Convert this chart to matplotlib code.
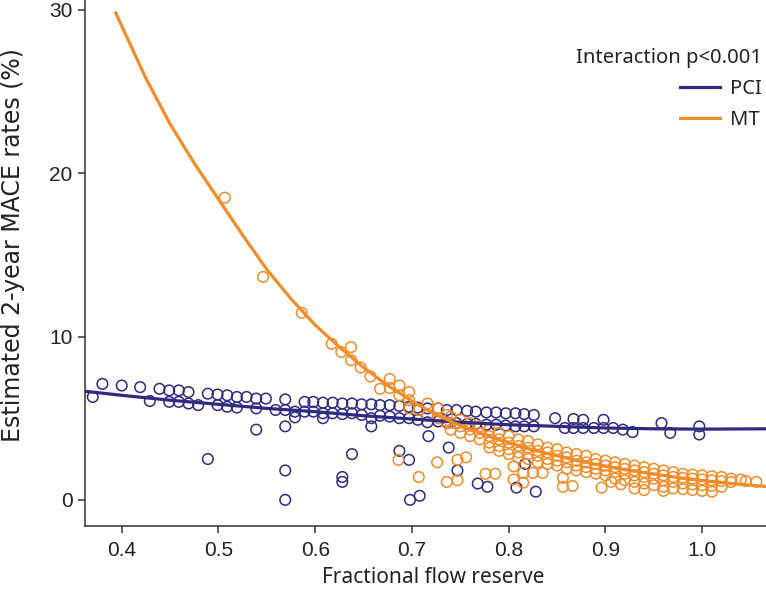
import matplotlib
matplotlib.use("Agg")
import matplotlib.pyplot as plt
from matplotlib.lines import Line2D

PCI_COLOR = "#2e2a82"
MT_COLOR = "#f28c28"

# Fitted curves
pci_curve_x = [0.362, 0.40, 0.45, 0.50, 0.55, 0.60, 0.65, 0.70, 0.75, 0.80, 0.85, 0.90, 0.95, 1.00, 1.066]
pci_curve_y = [6.65, 6.4, 6.1, 5.85, 5.6, 5.4, 5.15, 4.95, 4.75, 4.6, 4.5, 4.4, 4.35, 4.33, 4.35]

mt_curve_x = [0.393, 0.40, 0.425, 0.45, 0.475, 0.50, 0.525, 0.55, 0.575, 0.60, 0.625, 0.65, 0.675, 0.70,
              0.725, 0.75, 0.775, 0.80, 0.825, 0.85, 0.875, 0.90, 0.925, 0.95, 0.975, 1.00, 1.025, 1.05, 1.066]
mt_curve_y = [29.9, 29.0, 25.8, 23.0, 20.6, 18.4, 16.2, 14.1, 12.3, 10.7, 9.35, 8.1, 7.0, 6.05,
              5.2, 4.55, 4.0, 3.5, 3.05, 2.7, 2.35, 2.05, 1.8, 1.58, 1.37, 1.18, 1.03, 0.9, 0.82]

# PCI observed points
pci_x = [0.37, 0.38, 0.40, 0.419, 0.429, 0.439, 0.449, 0.449, 0.459, 0.459, 0.469, 0.469, 0.479,
         0.489, 0.489, 0.499, 0.499, 0.509, 0.509, 0.519, 0.519, 0.529, 0.539, 0.539, 0.539, 0.549,
         0.559, 0.569, 0.569, 0.569, 0.569, 0.569, 0.579, 0.579, 0.589, 0.589, 0.598, 0.598,
         0.608, 0.608, 0.608, 0.618, 0.618, 0.628, 0.628, 0.628, 0.628, 0.638, 0.638, 0.638,
         0.648, 0.648, 0.658, 0.658, 0.658, 0.667, 0.667, 0.677, 0.677, 0.687, 0.687, 0.687,
         0.697, 0.697, 0.697, 0.698, 0.706, 0.706, 0.708, 0.716, 0.716, 0.717, 0.727, 0.727,
         0.736, 0.736, 0.738, 0.746, 0.746, 0.747, 0.757, 0.757, 0.766, 0.766, 0.768, 0.777, 0.777,
         0.778, 0.787, 0.787, 0.797, 0.797, 0.807, 0.807, 0.808, 0.816, 0.816, 0.817, 0.826, 0.826,
         0.828, 0.848, 0.858, 0.867, 0.867, 0.877, 0.877, 0.888, 0.898, 0.898, 0.908, 0.918,
         0.928, 0.958, 0.967, 0.997, 0.997]
pci_y = [6.3, 7.1, 7.0, 6.9, 6.05, 6.8, 6.7, 6.0, 6.7, 6.0, 6.6, 5.9, 5.8,
         6.5, 2.5, 6.45, 5.8, 6.4, 5.7, 6.3, 5.65, 6.3, 6.2, 5.6, 4.3, 6.2,
         5.5, 6.15, 5.5, 4.5, 1.8, 0.0, 5.4, 5.05, 6.0, 5.4, 6.0, 5.4,
         5.95, 5.3, 5.0, 5.95, 5.3, 5.9, 5.25, 1.4, 1.1, 5.9, 5.3, 2.8,
         5.85, 5.2, 5.85, 5.0, 4.5, 5.8, 5.15, 5.8, 5.1, 5.75, 5.0, 3.0,
         5.7, 5.0, 2.45, 0.0, 5.65, 4.9, 0.25, 5.6, 4.75, 3.9, 5.6, 4.8,
         5.5, 4.75, 3.2, 5.5, 4.7, 1.8, 5.45, 4.65, 5.4, 4.65, 1.0, 5.35, 4.6,
         0.8, 5.35, 4.6, 5.3, 4.55, 5.3, 4.5, 0.75, 5.25, 4.5, 2.2, 5.2, 4.5,
         0.5, 5.0, 4.4, 4.95, 4.4, 4.9, 4.4, 4.4, 4.9, 4.4, 4.4, 4.3,
         4.15, 4.7, 4.1, 4.5, 4.0]

# MT observed points
mt_x = [0.5065, 0.546, 0.586, 0.617, 0.627, 0.637, 0.637, 0.647, 0.657, 0.667, 0.677, 0.677,
        0.687, 0.687, 0.697, 0.697, 0.697, 0.707, 0.716, 0.716, 0.727, 0.727, 0.736, 0.736,
        0.74, 0.74, 0.74, 0.75, 0.75, 0.75, 0.76, 0.76, 0.76, 0.77, 0.77, 0.77,
        0.78, 0.78, 0.78, 0.78, 0.79, 0.79, 0.79, 0.79, 0.80, 0.80, 0.80, 0.80,
        0.81, 0.81, 0.81, 0.81, 0.82, 0.82, 0.82, 0.82, 0.83, 0.83, 0.83, 0.83,
        0.84, 0.84, 0.84, 0.84, 0.85, 0.85, 0.85, 0.85, 0.86, 0.86, 0.86, 0.86,
        0.87, 0.87, 0.87, 0.87, 0.88, 0.88, 0.88, 0.88, 0.89, 0.89, 0.89, 0.89,
        0.90, 0.90, 0.90, 0.90, 0.91, 0.91, 0.91, 0.91, 0.92, 0.92, 0.92, 0.92,
        0.93, 0.93, 0.93, 0.93, 0.93, 0.94, 0.94, 0.94, 0.94, 0.94, 0.95, 0.95, 0.95, 0.95,
        0.96, 0.96, 0.96, 0.96, 0.96, 0.97, 0.97, 0.97, 0.97, 0.98, 0.98, 0.98, 0.98,
        0.99, 0.99, 0.99, 0.99, 1.00, 1.00, 1.00, 1.00, 1.01, 1.01, 1.01, 1.01,
        1.02, 1.02, 1.02, 1.03, 1.03, 1.04, 1.045, 1.056,
        0.686, 0.707, 0.726, 0.736, 0.747, 0.747, 0.756, 0.776, 0.786, 0.805, 0.805, 0.815,
        0.815, 0.825, 0.835, 0.856, 0.856, 0.866, 0.896, 0.906, 0.916]
mt_y = [18.5, 13.65, 11.45, 9.55, 9.05, 9.35, 8.55, 8.1, 7.55, 6.8, 7.4, 6.85,
        7.0, 6.4, 6.6, 6.1, 5.6, 5.5, 5.9, 5.2, 5.6, 5.0, 5.2, 4.7,
        5.1, 4.7, 4.3, 4.9, 4.5, 4.1, 4.7, 4.3, 3.9, 4.5, 4.1, 3.7,
        4.3, 3.9, 3.5, 3.2, 4.1, 3.7, 3.3, 3.0, 3.9, 3.5, 3.1, 2.8,
        3.7, 3.3, 2.9, 2.6, 3.6, 3.2, 2.8, 2.5, 3.4, 3.0, 2.7, 2.3,
        3.2, 2.9, 2.5, 2.2, 3.1, 2.7, 2.4, 2.1, 2.9, 2.6, 2.3, 1.9,
        2.8, 2.4, 2.1, 1.8, 2.7, 2.3, 2.0, 1.7, 2.5, 2.2, 1.9, 1.6,
        2.4, 2.1, 1.8, 1.5, 2.3, 2.0, 1.7, 1.3, 2.2, 1.9, 1.6, 1.2,
        2.1, 1.8, 1.5, 1.1, 0.7, 2.0, 1.7, 1.4, 1.0, 0.6, 1.9, 1.6, 1.3, 0.9,
        1.8, 1.5, 1.2, 0.8, 0.55, 1.7, 1.4, 1.1, 0.7, 1.6, 1.35, 1.0, 0.65,
        1.55, 1.3, 0.95, 0.6, 1.5, 1.25, 0.9, 0.55, 1.45, 1.2, 0.85, 0.5,
        1.4, 1.15, 0.8, 1.3, 1.1, 1.25, 1.15, 1.1,
        2.45, 1.4, 2.3, 1.1, 2.45, 1.2, 2.6, 1.6, 1.6, 2.05, 1.25, 1.65,
        1.05, 1.65, 1.65, 1.35, 0.8, 0.85, 0.75, 1.1, 0.95]

x_ticks = [0.4, 0.5, 0.6, 0.7, 0.8, 0.9, 1.0]
x_tick_labels = ["0.4", "0.5", "0.6", "0.7", "0.8", "0.9", "1.0"]
y_ticks = [0, 10, 20, 30]
y_tick_labels = ["0", "10", "20", "30"]

W, H = 766, 594
L, B = 85, 526
fig = plt.figure(figsize=(W / 100, H / 100), dpi=100)
ax = fig.add_axes([L / W, (H - B) / H, (W - L) / W, B / H])

ax.scatter(pci_x, pci_y, s=58, facecolors="none", edgecolors=PCI_COLOR, linewidths=1.1, zorder=2)
ax.scatter(mt_x, mt_y, s=58, facecolors="none", edgecolors=MT_COLOR, linewidths=1.1, zorder=3)
ax.plot(pci_curve_x, pci_curve_y, color=PCI_COLOR, lw=2.3, zorder=4, solid_capstyle="butt")
ax.plot(mt_curve_x, mt_curve_y, color=MT_COLOR, lw=2.3, zorder=5, solid_capstyle="butt")

ax.set_xlim(0.362, 1.066)
ax.set_ylim(-1.6, 30.6)
ax.set_xticks(x_ticks)
ax.set_xticklabels(x_tick_labels)
ax.set_yticks(y_ticks)
ax.set_yticklabels(y_tick_labels)
ax.spines["top"].set_visible(False)
ax.spines["right"].set_visible(False)
for sp in ["left", "bottom"]:
    ax.spines[sp].set_color("#333333")
    ax.spines[sp].set_linewidth(1.1)
ax.tick_params(axis="both", direction="out", length=5, width=1.1, color="#333333",
               labelsize=15, labelcolor="#222222")
ax.tick_params(axis="x", pad=6)
ax.tick_params(axis="y", pad=4)
for lab in ax.get_xticklabels() + ax.get_yticklabels():
    lab.set_family(["Liberation Sans", "DejaVu Sans"])

ax.set_xlabel("Fractional flow reserve", fontsize=15, family=["Noto Sans", "DejaVu Sans"],
              color="#222222")
ax.xaxis.set_label_coords(0.512, -0.078)
ax.set_ylabel("Estimated 2-year MACE rates (%)", fontsize=17, family=["DejaVu Sans"],
              color="#222222")
ax.yaxis.set_label_coords(-0.088, 0.535)

handles = [Line2D([0], [0], color=PCI_COLOR, lw=2.3), Line2D([0], [0], color=MT_COLOR, lw=2.3)]
leg = ax.legend(handles, ["PCI", "MT"], title="Interaction p<0.001", loc="upper right",
                bbox_to_anchor=(1.0, 0.917), frameon=False, alignment="right",
                prop={"family": ["Noto Sans", "DejaVu Sans"], "size": 14.5},
                title_fontproperties={"family": ["Noto Sans", "DejaVu Sans"], "size": 14.5},
                handlelength=2.0, handletextpad=0.5, labelspacing=0.55,
                borderaxespad=0.0, borderpad=0.2)
leg.get_title().set_color("#222222")
for t in leg.get_texts():
    t.set_color("#222222")

fig.savefig("out.png", dpi=100)
